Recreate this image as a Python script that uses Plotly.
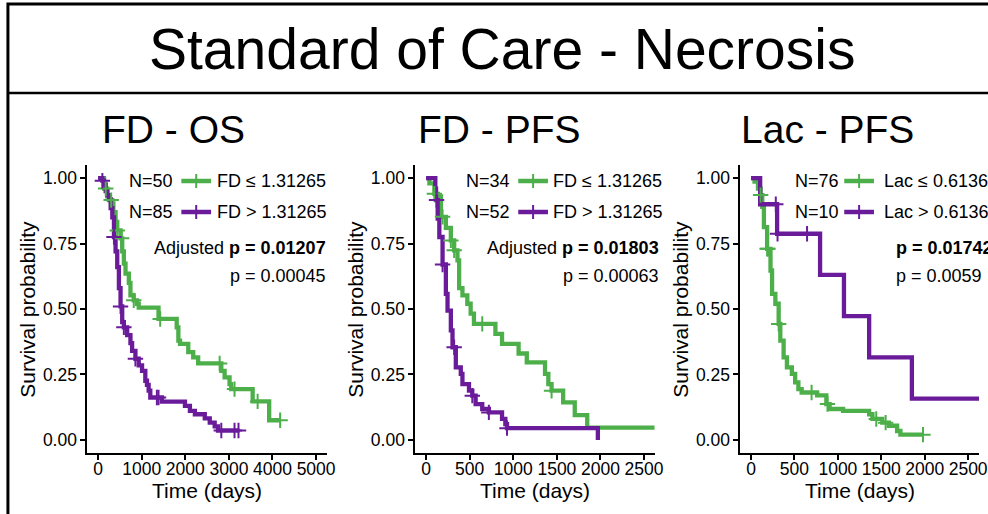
import numpy as np
import plotly.graph_objects as go

W, H = 988, 514
GREEN = "#4DAF4A"
PURPLE = "#6A1B9A"
FONT = "Liberation Sans"

# ---------------- data ----------------
# Panel 1: FD - OS
os_low_t = [0, 60, 136, 212, 250, 326, 350, 401, 439, 515, 553, 591, 629, 705, 742, 818, 894, 932,
            1386, 1803, 1841, 1879, 2068, 2182, 2295, 2826, 2902, 3015, 3053, 3545, 3924, 4190]
os_low_s = [1.0, 1.0, 0.96, 0.93, 0.916, 0.903, 0.87, 0.833, 0.80, 0.77, 0.72, 0.673, 0.635, 0.60,
            0.552, 0.533, 0.52, 0.505, 0.462, 0.43, 0.379, 0.367, 0.335, 0.315, 0.292, 0.264, 0.239,
            0.213, 0.194, 0.147, 0.075, 0.075]
os_low_cens = [175, 300, 439, 540, 818, 1424, 2788, 3129, 3659, 4175]

os_high_t = [0, 60, 98, 136, 174, 212, 250, 288, 326, 364, 401, 439, 477, 515, 553, 591, 667, 742,
             780, 856, 932, 1008, 1083, 1121, 1159, 1197, 1462, 1992, 2106, 2220, 2447, 2561, 2674,
             2750, 3242]
os_high_s = [1.0, 1.0, 0.99, 0.976, 0.95, 0.935, 0.92, 0.885, 0.85, 0.775, 0.72, 0.66, 0.58, 0.51,
             0.45, 0.43, 0.40, 0.37, 0.34, 0.31, 0.285, 0.264, 0.226, 0.21, 0.188, 0.162, 0.146,
             0.13, 0.111, 0.098, 0.082, 0.066, 0.052, 0.036, 0.036]
os_high_cens = [98, 364, 515, 591, 856, 1348, 1386, 2826, 3129, 3220]

# Panel 2: FD - PFS
pfs_low_t = [0, 38, 95, 136, 170, 227, 284, 322, 360, 379, 417, 473, 511, 549, 795, 871, 1061,
             1155, 1364, 1402, 1439, 1572, 1705, 1848, 2620]
pfs_low_s = [1.0, 0.98, 0.94, 0.93, 0.852, 0.81, 0.762, 0.724, 0.686, 0.58, 0.552, 0.52, 0.482,
             0.443, 0.405, 0.367, 0.33, 0.296, 0.252, 0.213, 0.188, 0.143, 0.095, 0.047, 0.047]
pfs_low_cens = [95, 189, 284, 322, 644, 1439]

pfs_high_t = [0, 106, 114, 133, 152, 189, 227, 246, 284, 303, 341, 398, 417, 492, 530, 568, 644,
              720, 871, 909, 928, 1970]
pfs_high_s = [1.0, 0.96, 0.916, 0.845, 0.775, 0.67, 0.558, 0.494, 0.418, 0.354, 0.277, 0.252, 0.213,
              0.188, 0.169, 0.137, 0.118, 0.105, 0.08, 0.06, 0.045, 0.0]
pfs_high_cens = [120, 189, 322, 530, 720, 928]

# Panel 3: Lac - PFS
lac_low_t = [0, 40, 80, 110, 129, 148, 185, 224, 242, 280, 318, 337, 375, 413, 470, 508, 545, 583,
             760, 867, 905, 1060, 1360, 1398, 1511, 1587, 1682, 1720, 1985]
lac_low_s = [1.0, 0.987, 0.96, 0.935, 0.89, 0.813, 0.73, 0.647, 0.558, 0.52, 0.443, 0.379, 0.315,
             0.277, 0.252, 0.22, 0.194, 0.181, 0.17, 0.137, 0.118, 0.111, 0.098, 0.08, 0.066, 0.054,
             0.034, 0.02, 0.02]
lac_low_cens = [110, 185, 195, 318, 697, 880, 1442, 1550, 1980]

lac_high_t = [0, 105, 300, 795, 1070, 1360, 1852, 2700]
lac_high_s = [1.0, 0.9, 0.7875, 0.63, 0.4725, 0.315, 0.1575, 0.1575]
lac_high_cens = [285, 305, 645]

panel_titles = ["FD - OS", "FD - PFS", "Lac - PFS"]
group_n = [["N=50", "N=85"], ["N=34", "N=52"], ["N=76", "N=10"]]
group_labels = [["FD \u2264 1.31265", "FD > 1.31265"],
                ["FD \u2264 1.31265", "FD > 1.31265"],
                ["Lac \u2264 0.6136", "Lac > 0.6136"]]
adj_p = ["Adjusted <b>p = 0.01207</b>", "Adjusted <b>p = 0.01803</b>", "<b>p = 0.01742</b>"]
raw_p = ["p = 0.00045", "p = 0.00063", "p = 0.0059"]
x_ticks = [[0, 1000, 2000, 3000, 4000, 5000], [0, 500, 1000, 1500, 2000, 2500],
           [0, 500, 1000, 1500, 2000, 2500]]
x_ranges = [[-250, 5250], [-125, 2625], [-125, 2625]]
y_ticks = [0, 0.25, 0.5, 0.75, 1.0]
y_ticktext = ["0.00", "0.25", "0.50", "0.75", "1.00"]

curves = [
    [(os_low_t, os_low_s, os_low_cens), (os_high_t, os_high_s, os_high_cens)],
    [(pfs_low_t, pfs_low_s, pfs_low_cens), (pfs_high_t, pfs_high_s, pfs_high_cens)],
    [(lac_low_t, lac_low_s, lac_low_cens), (lac_high_t, lac_high_s, lac_high_cens)],
]
colors = [GREEN, PURPLE]

# ---------------- layout geometry (pixels) ----------------
ax_left = [88, 419, 747]
ax_right = [330, 661, 988]
ax_top, ax_bottom = 165, 453


def fx(p):
    return p / W


def fy(p):
    return 1 - p / H


def s_at(times, surv, ct):
    times = np.asarray(times, dtype=float)
    surv = np.asarray(surv, dtype=float)
    idx = np.searchsorted(times, np.asarray(ct, dtype=float), side="right") - 1
    return surv[idx]


fig = go.Figure()

for i in range(3):
    xa = "x" if i == 0 else f"x{i+1}"
    ya = "y" if i == 0 else f"y{i+1}"
    for g, (t, s, c) in enumerate(curves[i]):
        fig.add_trace(go.Scatter(x=t, y=s, mode="lines", line=dict(shape="hv", width=4.3, color=colors[g]),
                                 xaxis=xa, yaxis=ya, showlegend=False, hoverinfo="skip"))
    for g, (t, s, c) in enumerate(curves[i]):
        fig.add_trace(go.Scatter(x=c, y=s_at(t, s, c), mode="markers",
                                 marker=dict(symbol="cross-thin", size=11,
                                             line=dict(width=2, color=colors[g]), color=colors[g]),
                                 xaxis=xa, yaxis=ya, showlegend=False, hoverinfo="skip"))

axis_common = dict(showline=True, linecolor="black", linewidth=1.5, ticks="outside", ticklen=5,
                   tickwidth=1.5, tickcolor="black", showgrid=False, zeroline=False,
                   tickfont=dict(family=FONT, size=17.5, color="black"))

layout = dict(width=W, height=H, margin=dict(l=0, r=0, t=0, b=0), paper_bgcolor="white",
              plot_bgcolor="white", showlegend=False, font=dict(family=FONT, color="black"))
for i in range(3):
    xk = "xaxis" if i == 0 else f"xaxis{i+1}"
    yk = "yaxis" if i == 0 else f"yaxis{i+1}"
    ya = "y" if i == 0 else f"y{i+1}"
    xa = "x" if i == 0 else f"x{i+1}"
    layout[xk] = dict(domain=[fx(ax_left[i]), min(1.0, fx(ax_right[i]))], range=x_ranges[i],
                      tickvals=x_ticks[i], anchor=ya, ticklabeloverflow="allow",
                      ticklabelstandoff=-6, **axis_common)
    layout[yk] = dict(domain=[fy(ax_bottom), fy(ax_top)], range=[-0.05, 1.05], tickvals=y_ticks,
                      ticktext=y_ticktext, anchor=xa, **axis_common)
fig.update_layout(**layout)

ann = []
shapes = []


def text(x, y, s, size, xanchor="center", angle=0):
    ann.append(dict(x=fx(x), y=fy(y), xref="paper", yref="paper", text=s, showarrow=False,
                    xanchor=xanchor, yanchor="middle", textangle=angle,
                    font=dict(family=FONT, size=size, color="black")))


# outer frame and title
shapes.append(dict(type="rect", xref="paper", yref="paper", x0=fx(8), x1=fx(1010), y0=fy(4), y1=fy(530),
                   line=dict(color="black", width=3)))
shapes.append(dict(type="line", xref="paper", yref="paper", x0=fx(8), x1=fx(1010), y0=fy(93), y1=fy(93),
                   line=dict(color="black", width=2.5)))
text(507, 49, "Standard of Care - Necrosis", 57)

sub_x = [101, 420, 746]
n_right = [177, 517, 849]
key_x0 = [183, 523, 852]
lab_x = [217, 556, 890]
p_right = [331, 667, None]
row_y = [181, 212]
LEG = 18

for i in range(3):
    text(sub_x[i], 129, panel_titles[i], 39, xanchor="left")
    cx = (ax_left[i] + ax_right[i]) / 2 if i < 2 else (ax_left[i] + 989) / 2
    text(cx, 490, "Time (days)", 21)
    text(ax_left[i] - 61, (ax_top + ax_bottom) / 2, "Survival probability", 21, angle=-90)
    for g in range(2):
        text(n_right[i], row_y[g], group_n[i][g], LEG, xanchor="right")
        text(lab_x[i], row_y[g], group_labels[i][g], LEG, xanchor="left")
        shapes.append(dict(type="line", xref="paper", yref="paper", x0=fx(key_x0[i]), x1=fx(key_x0[i] + 30),
                           y0=fy(row_y[g]), y1=fy(row_y[g]), line=dict(color=colors[g], width=4.5)))
        shapes.append(dict(type="line", xref="paper", yref="paper", x0=fx(key_x0[i] + 15),
                           x1=fx(key_x0[i] + 15), y0=fy(row_y[g] - 7), y1=fy(row_y[g] + 7),
                           line=dict(color=colors[g], width=2)))
    if p_right[i] is not None:
        text(p_right[i], 248, adj_p[i], LEG, xanchor="right")
        text(p_right[i], 276, raw_p[i], LEG, xanchor="right")
    else:
        text(902, 248, adj_p[i], LEG, xanchor="left")
        text(902, 276, raw_p[i], LEG, xanchor="left")

fig.update_layout(annotations=ann, shapes=shapes)
fig.write_html("out.html", config={"displayModeBar": False},
               post_script="document.body.style.margin='0';document.body.style.overflow='hidden';")
